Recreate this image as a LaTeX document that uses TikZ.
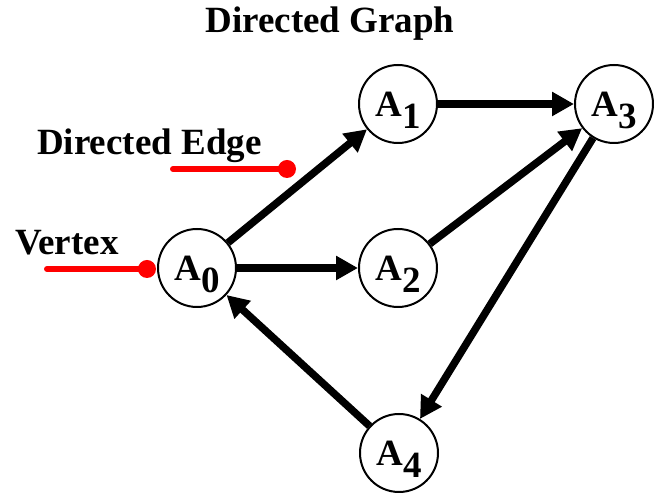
\documentclass[tikz,border=0pt]{standalone}
\usepackage{fontspec}
\setmainfont{Liberation Serif}
\usetikzlibrary{arrows.meta}
\definecolor{pointred}{HTML}{FF0000}
\newcommand\Asub[1]{A\raisebox{-12pt}{#1}}

\begin{document}
\begin{tikzpicture}[x=1pt,y=1pt,
  txt/.style={font=\fontsize{37}{40}\selectfont\bfseries,inner sep=0pt},
  vertex/.style={txt,draw,circle,line width=2pt,minimum size=78pt,text height=26pt,text depth=0pt},
  edge/.style={line width=7.5pt,-{Triangle[length=22pt,width=23pt]}},
  pointer/.style={pointred,line width=6pt,line cap=round},
  dot/.style={circle,fill=pointred,minimum size=18pt,inner sep=0pt}]
\useasboundingbox (0,0) rectangle (654,495);
\node[txt,anchor=base] (title) at (330,462) {Directed Graph};
\node[vertex] (a0) at (197,227) {\Asub{0}};
\node[vertex] (a1) at (398,391) {\Asub{1}};
\node[vertex] (a2) at (398,227) {\Asub{2}};
\node[vertex] (a3) at (614,391) {\Asub{3}};
\node[vertex] (a4) at (399,42) {\Asub{4}};
\draw[edge] (a0) -- (a1);
\draw[edge] (a0) -- (a2);
\draw[edge] (a1) -- (a3);
\draw[edge] (a2) -- (a3);
\draw[edge] (a3) -- (a4);
\draw[edge] (a4) -- (a0);
% labels with red pointers
\node[txt,anchor=base west] (edgelbl) at (37,340) {Directed Edge};
\node[dot] (edgedot) at (287,326) {};
\coordinate (edgetail) at (173,326);
\draw[pointer] (edgetail) -- (edgedot.center);
\node[txt,anchor=base west] (vertlbl) at (15,240) {Vertex};
\node[dot] (vertdot) at (147,226) {};
\coordinate (verttail) at (47,226);
\draw[pointer] (verttail) -- (vertdot.center);
\end{tikzpicture}
\end{document}
